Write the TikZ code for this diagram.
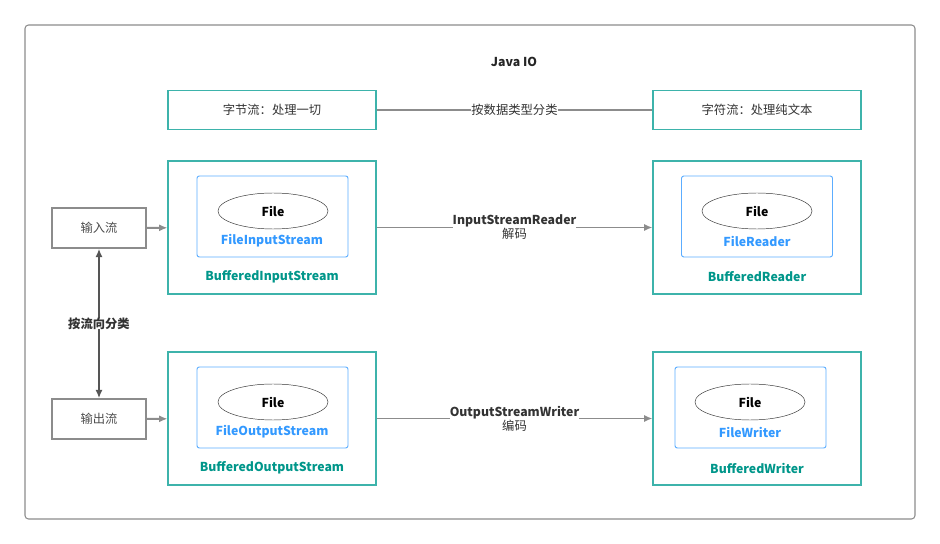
\documentclass[tikz,border=0pt]{standalone}
\usepackage{fontspec}
\setmainfont{Noto Sans CJK SC}
\usetikzlibrary{shapes.geometric,arrows.meta}

\definecolor{tealline}{HTML}{3DB3AB}
\definecolor{tealtext}{HTML}{00968A}
\definecolor{bluetext}{HTML}{3399FF}
\definecolor{grayline}{HTML}{8C8C8C}
\definecolor{darkline}{HTML}{555555}

\begin{document}
\begin{tikzpicture}[
        x=0.03cm, y=-0.03cm,
        font=\fontsize{10.5}{12}\selectfont,
        catbox/.style={draw=tealline, line width=1pt, rectangle, minimum width=6.24cm, minimum height=1.17cm, text=black!80},
        bufbox/.style={draw=tealline, line width=1pt, rectangle, minimum width=6.24cm, minimum height=3.99cm},
        filebox/.style={draw=bluetext!80, line width=0.8pt, rectangle, rounded corners=2pt, minimum width=4.53cm, minimum height=2.43cm},
        fileell/.style={draw=black!80, ellipse, minimum width=3.3cm, minimum height=1.08cm, font=\fontsize{10.5}{12}\selectfont\bfseries},
        dirbox/.style={draw=grayline, line width=1.4pt, rectangle, minimum width=2.82cm, minimum height=1.2cm, text=black!70},
        bluelabel/.style={text=bluetext, font=\fontsize{10.5}{12}\selectfont\bfseries},
        teallabel/.style={text=tealtext, font=\fontsize{10.5}{12}\selectfont\bfseries},
        arrow/.style={-{Latex[length=7pt,width=6pt]}, draw=grayline, line width=1.6pt},
        linelabel/.style={fill=white, inner sep=0pt, align=center, text=black!80}
    ]
        \useasboundingbox (0,0) rectangle (940,544);
        \draw[grayline, line width=0.9pt, rounded corners=3pt] (25,25) rectangle (915,519);

        \node[font=\fontsize{10.5}{12}\selectfont\bfseries, text=black!85] (title) at (514,62) {Java IO};

        % by data type
        \node[catbox] (byte) at (272,110) {字节流：处理一切};
        \node[catbox] (char) at (757,110) {字符流：处理纯文本};
        \draw[grayline, line width=1.6pt] (byte) -- node[linelabel]{按数据类型分类} (char);

        % input side
        \node[bufbox] (bis) at (272,227.5) {};
        \node[filebox] (fis) at (272.5,216.5) {};
        \node[fileell] (fileA) at (273,211) {File};
        \node[bluelabel] (fisname) at (272,241) {FileInputStream};
        \node[teallabel] (bisname) at (272,277) {BufferedInputStream};

        \node[bufbox] (br) at (757,227.5) {};
        \node[filebox] (fr) at (757,216.5) {};
        \node[fileell] (fileB) at (757,211) {File};
        \node[bluelabel] (frname) at (757,241) {FileReader};
        \node[teallabel] (brname) at (757,277) {BufferedReader};

        % output side
        \node[bufbox] (bos) at (272,418.5) {};
        \node[filebox] (fos) at (272.5,407.5) {};
        \node[fileell] (fileC) at (273,402) {File};
        \node[bluelabel] (fosname) at (272,432) {FileOutputStream};
        \node[teallabel] (bosname) at (272,468) {BufferedOutputStream};

        \node[bufbox] (bw) at (757,418.5) {};
        \node[filebox] (fw) at (750.5,407.5) {};
        \node[fileell] (fileD) at (750,402) {File};
        \node[bluelabel] (fwname) at (750,432) {FileWriter};
        \node[teallabel] (bwname) at (757,468) {BufferedWriter};

        % by direction
        \node[dirbox] (in) at (99,228) {输入流};
        \node[dirbox] (out) at (99,419) {输出流};

        \draw[arrow] (in) -- (bis);
        \draw[arrow] (out) -- (bos);
        \draw[{Latex[length=7pt,width=6pt]}-{Latex[length=7pt,width=6pt]}, draw=darkline, line width=1.8pt]
            (in) -- node[linelabel, font=\fontsize{10.5}{12}\selectfont\bfseries]{按流向分类} (out);

        \draw[arrow] (bis) -- node[linelabel]{\textbf{InputStreamReader}\\解码} (br);
        \draw[arrow] (bos) -- node[linelabel]{\textbf{OutputStreamWriter}\\编码} (bw);
    \end{tikzpicture}
\end{document}
